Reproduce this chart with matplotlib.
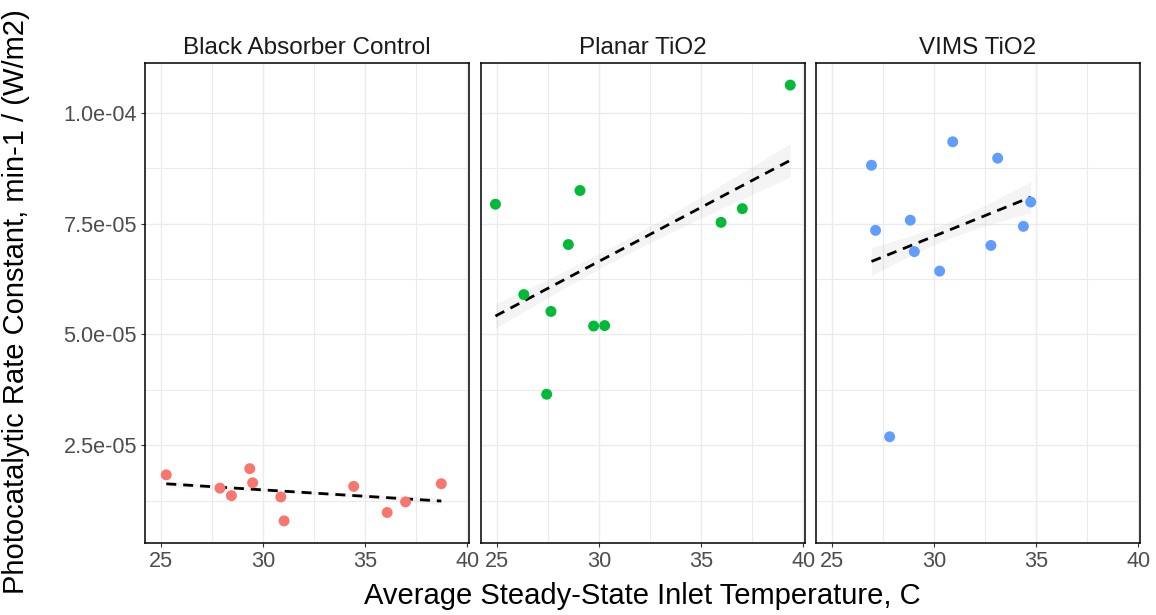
import numpy as np
import matplotlib
matplotlib.use("Agg")
import matplotlib.pyplot as plt
from matplotlib.ticker import FixedLocator, FuncFormatter

plt.rcParams["font.family"] = ["Liberation Sans", "DejaVu Sans"]

# Facet names and point colours
panels = ["Black Absorber Control", "Planar TiO2", "VIMS TiO2"]
colors = ["#F8766D", "#00BA38", "#619CFF"]

# Average steady-state inlet temperature (C) and photocatalytic rate constant
black_temp = [25.25, 27.88, 28.44, 29.34, 29.48, 30.86, 31.02, 34.43, 36.07, 36.97, 38.72]
black_rate = [1.83e-5, 1.53e-5, 1.36e-5, 1.97e-5, 1.65e-5, 1.33e-5, 0.79e-5,
              1.57e-5, 0.98e-5, 1.22e-5, 1.63e-5]

planar_temp = [24.93, 26.32, 27.44, 27.65, 28.50, 29.07, 29.74, 30.28, 35.98, 37.02, 39.37]
planar_rate = [7.94e-5, 5.90e-5, 3.65e-5, 5.52e-5, 7.03e-5, 8.25e-5, 5.19e-5,
               5.20e-5, 7.53e-5, 7.84e-5, 10.63e-5]

vims_temp = [26.94, 27.14, 27.83, 28.84, 29.04, 30.28, 30.92, 32.79, 33.12, 34.38, 34.74]
vims_rate = [8.82e-5, 7.35e-5, 2.69e-5, 7.58e-5, 6.87e-5, 6.43e-5, 9.35e-5,
             7.01e-5, 8.98e-5, 7.44e-5, 7.99e-5]

temps = [black_temp, planar_temp, vims_temp]
rates = [black_rate, planar_rate, vims_rate]

x_ticks = [25, 30, 35, 40]
x_minor = [27.5, 32.5, 37.5]
y_ticks = [2.5e-5, 5.0e-5, 7.5e-5, 1.0e-4]
y_minor = [1.25e-5, 3.75e-5, 6.25e-5, 8.75e-5]

# shared limits with 5% padding on each side
all_t = np.concatenate([np.asarray(t) for t in temps])
all_r = np.concatenate([np.asarray(r) for r in rates])
pad_t = 0.05 * (all_t.max() - all_t.min())
pad_r = 0.05 * (all_r.max() - all_r.min())
xlim = (all_t.min() - pad_t, all_t.max() + pad_t)
ylim = (all_r.min() - pad_r, all_r.max() + pad_r)

fig = plt.figure(figsize=(11.56, 6.15), dpi=100)
lefts = [145 / 1156, 480.7 / 1156, 815.7 / 1156]
width = 324.3 / 1156
bottom = 1 - 542.7 / 615
height = (542.7 - 63.3) / 615

band_k = 0.35
grid_col = "#EBEBEB"

for i, (name, col, t, r) in enumerate(zip(panels, colors, temps, rates)):
    ax = fig.add_axes([lefts[i], bottom, width, height])
    t = np.asarray(t)
    r = np.asarray(r)
    ax.set_xlim(*xlim)
    ax.set_ylim(*ylim)

    ax.xaxis.set_major_locator(FixedLocator(x_ticks))
    ax.xaxis.set_minor_locator(FixedLocator(x_minor))
    ax.yaxis.set_major_locator(FixedLocator(y_ticks))
    ax.yaxis.set_minor_locator(FixedLocator(y_minor))
    ax.grid(True, which="major", color=grid_col, lw=1.0, zorder=0)
    ax.grid(True, which="minor", color=grid_col, lw=0.8, zorder=0)
    ax.set_axisbelow(True)

    # linear fit with a faint standard-error band
    slope, intercept = np.polyfit(t, r, 1)
    xs = np.linspace(t.min(), t.max(), 80)
    fit = slope * xs + intercept
    resid = r - (slope * t + intercept)
    n = len(t)
    s = np.sqrt(np.sum(resid ** 2) / (n - 2))
    sxx = np.sum((t - t.mean()) ** 2)
    se = s * np.sqrt(1 / n + (xs - t.mean()) ** 2 / sxx)
    ax.fill_between(xs, fit - band_k * se, fit + band_k * se,
                    color="#999999", alpha=0.1, lw=0, zorder=1)
    ax.plot(xs, fit, color="black", lw=2.0, ls=(0, (3.6, 2.5)), zorder=2)

    ax.scatter(t, r, s=62, color=col, edgecolors="none", zorder=3)

    for sp in ax.spines.values():
        sp.set_color("black")
        sp.set_linewidth(1.1)

    ax.tick_params(axis="both", which="major", length=2.75, width=0.8,
                   color="#333333", labelsize=15.6, labelcolor="#4D4D4D", pad=3)
    ax.tick_params(axis="both", which="minor", length=0)
    ax.xaxis.set_major_formatter(FuncFormatter(lambda v, p: f"{v:g}"))
    if i == 0:
        ax.yaxis.set_major_formatter(FuncFormatter(lambda v, p: f"{v:.1e}"))
    else:
        ax.tick_params(axis="y", which="major", labelleft=False, length=0)

    ax.set_title(name, fontsize=17.5, color="#1A1A1A", pad=7)

fig.text(0.5 * (lefts[0] + lefts[2] + width), 0.008,
         "Average Steady-State Inlet Temperature, C",
         ha="center", va="bottom", fontsize=21, color="black")
fig.text(0.002, 0.51,
         "Photocatalytic Rate Constant, min-1 / (W/m2)",
         ha="left", va="center", rotation=90, fontsize=21, color="black")

fig.savefig("out.png", dpi=100, facecolor="white")
